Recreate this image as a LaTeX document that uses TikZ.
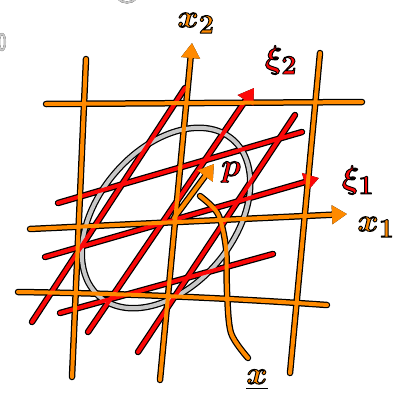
\documentclass[tikz,border=0pt]{standalone}
\usepackage{amsmath,amssymb}
\usepackage{graphicx}
\usepackage{tikz}
\usetikzlibrary{arrows.meta}
\definecolor{penorange}{RGB}{255,138,0}
\definecolor{penred}{RGB}{252,8,8}
\definecolor{pengray}{RGB}{200,200,200}
\newcommand\inked[1]{\scalebox{1.3}{\special{pdf:literal direct 0 0 0 RG 0.7 w 1 j 2 Tr}#1\special{pdf:literal direct 0 Tr}}}
\tikzset{
  ink/.style={draw=black, line width=6.5pt},
  paint/.style={line width=4pt},
  grid/.style={draw=penorange, line cap=round, line join=round},
  oblique/.style={draw=penred, line cap=round, line join=round},
  level/.style={draw=pengray, line cap=round},
  axis/.style={-{Triangle[length=15pt, width=18pt]}},
  lbl/.style={font=\Huge\boldmath, inner sep=0pt},
}

\begin{document}
\begin{tikzpicture}[x=1pt, y=-1pt]
  \useasboundingbox (0,0) rectangle (405,402);
  \coordinate (o) at (174,218);
  \foreach \pass in {ink,paint}{
    % stray marks at the edges
    \draw[level, \pass, line width=2pt] (2,42) ellipse (3pt and 8pt);
    \draw[level, \pass, line width=2pt] (118,-2) .. controls (122,4) and (132,4) .. (136,-2);
    % level curve
    \draw[level, \pass] (166,218) ellipse [x radius=103, y radius=68, rotate=50];
    % oblique coordinate lines
    \draw[oblique, \pass] (32,322) -- (185,88);
    \draw[oblique, axis, \pass] (88,332) -- (254,88);
    \draw[oblique, \pass] (138,352) -- (295,115);
    \draw[oblique, \pass] (58,203) -- (302,132);
    \draw[oblique, axis, \pass] (45,257) -- (319,178);
    \draw[oblique, \pass] (60,313) -- (273,254);
    % cartesian grid
    \draw[grid, \pass] (86,59) -- (72,377);
    \draw[grid, \pass] (320,53) -- (290,373);
    \draw[grid, \pass] (46,104) -- (362,102);
    \draw[grid, \pass] (18,292) .. controls (90,293) and (200,296) .. (327,305);
    \draw[grid, axis, \pass] (160,380) -- (192,43);
    \draw[grid, axis, \pass] (30,229) -- (347,214);
    \draw[grid, axis, \pass] (o) -- (214,164);
    \draw[grid, \pass] plot[smooth] coordinates {(248,358) (231,333) (227,292) (226,248) (218,214) (200,196)};
  }
  % labels
  \node[lbl, text=penorange] (xtwo) at (196,23) {\inked{$x_2$}};
  \node[lbl, text=penred] (xitwo) at (281,60) {\inked{$\xi_2$}};
  \node[lbl, text=penred] (xione) at (358,180) {\inked{$\xi_1$}};
  \node[lbl, text=penorange] (xone) at (376,227) {\inked{$x_1$}};
  \node[lbl, text=penred] (p) at (231,172) {\inked{$p$}};
  \node[lbl, text=penorange] (x) at (257,380) {\inked{$\underline{x}$}};
\end{tikzpicture}
\end{document}
